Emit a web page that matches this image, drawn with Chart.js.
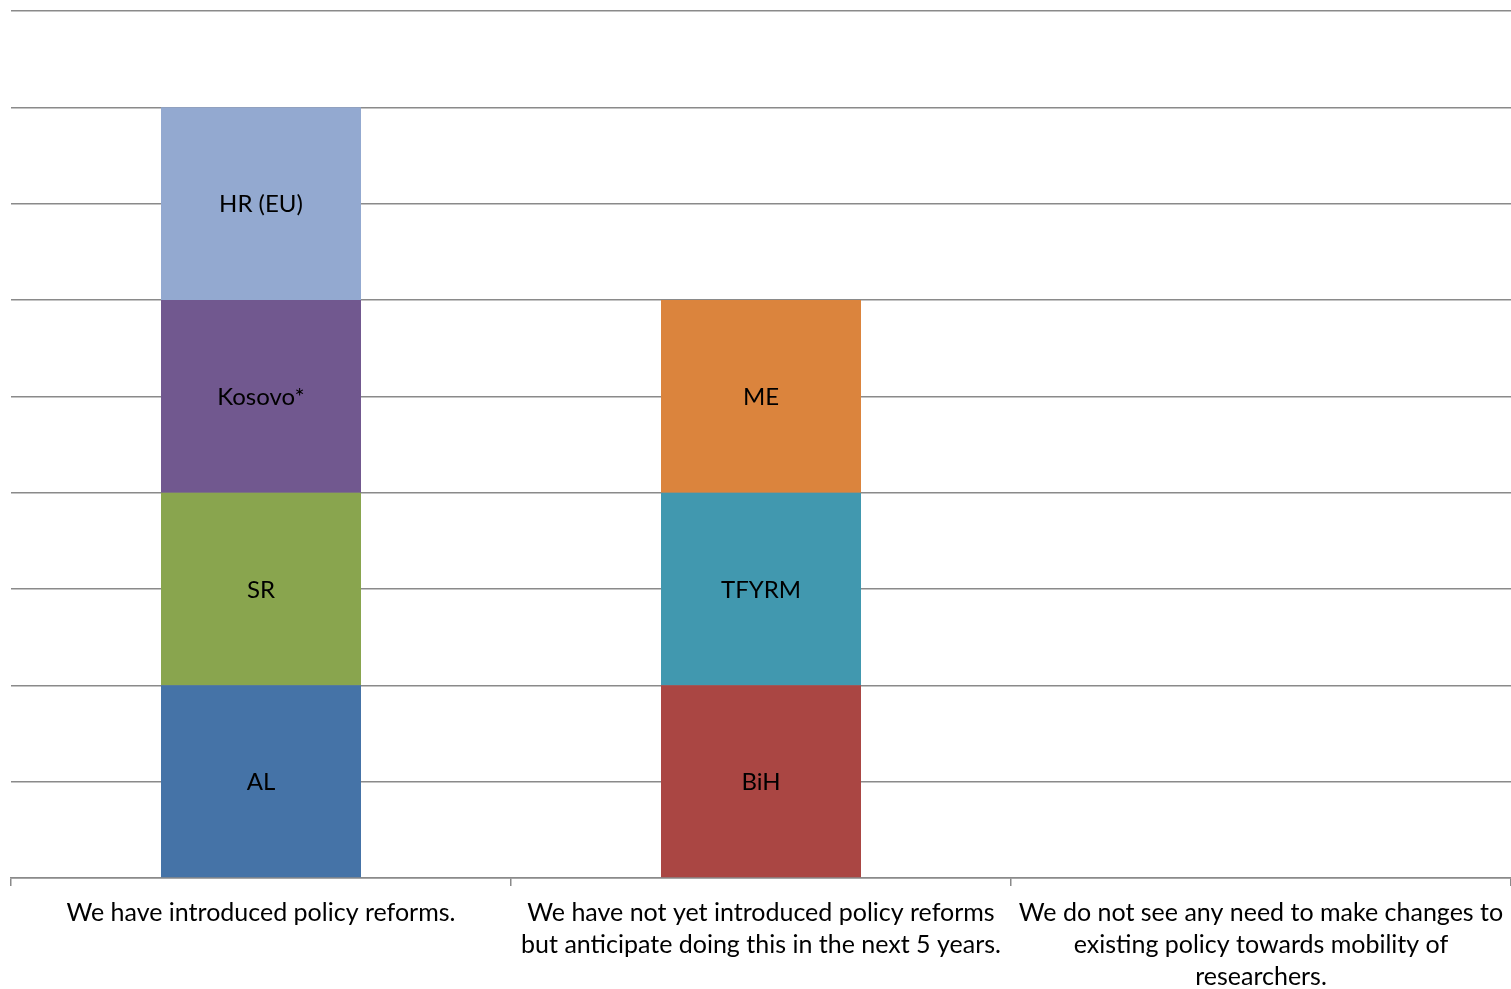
<!DOCTYPE html>
<html>
<head>
<meta charset="utf-8">
<script src="https://cdn.jsdelivr.net/npm/chart.js@4/dist/chart.umd.min.js"></script>
<style>
  html, body { margin: 0; padding: 0; background: #fff; }
  #wrap { width: 1511px; height: 989px; position: relative; }
</style>
</head>
<body>
<div id="wrap"><canvas id="chart"></canvas></div>
<script>
const categories = [
  ['We have introduced policy reforms.'],
  ['We have not yet introduced policy reforms', 'but anticipate doing this in the next 5 years.'],
  ['We do not see any need to make changes to', 'existing policy towards mobility of', 'researchers.']
];

// one array per country, one value per answer
const AL     = [1, null, null];
const SR     = [1, null, null];
const KOSOVO = [1, null, null];
const HR     = [1, null, null];
const BIH    = [null, 1, null];
const TFYRM  = [null, 1, null];
const ME     = [null, 1, null];

const series = [
  { label: 'AL',      data: AL,     color: '#4573A7' },
  { label: 'SR',      data: SR,     color: '#89A54E' },
  { label: 'Kosovo*', data: KOSOVO, color: '#71588F' },
  { label: 'HR (EU)', data: HR,     color: '#93A9D0' },
  { label: 'BiH',     data: BIH,    color: '#AA4643' },
  { label: 'TFYRM',   data: TFYRM,  color: '#4198AF' },
  { label: 'ME',      data: ME,     color: '#DB843D' },
];

const FONT = 'Lato';
const GRID = '#8a8a8a';

// country name in the middle of each segment
const segmentLabels = {
  id: 'segmentLabels',
  afterDatasetsDraw(chart) {
    const ctx = chart.ctx;
    ctx.save();
    ctx.font = '24px ' + FONT;
    ctx.fillStyle = '#000';
    ctx.textAlign = 'center';
    ctx.textBaseline = 'middle';
    chart.data.datasets.forEach((ds, i) => {
      const meta = chart.getDatasetMeta(i);
      meta.data.forEach((bar, j) => {
        if (ds.data[j] == null) return;
        ctx.fillText(ds.label, bar.x, (bar.y + bar.base) / 2 + 1);
      });
    });
    ctx.restore();
  }
};

new Chart(document.getElementById('chart'), {
  type: 'bar',
  data: {
    labels: categories,
    datasets: series.map(s => ({
      label: s.label,
      data: s.data,
      backgroundColor: s.color,
      borderWidth: 0,
      barPercentage: 0.4,
      categoryPercentage: 1.0,
    })),
  },
  options: {
    responsive: true,
    maintainAspectRatio: false,
    animation: false,
    layout: { padding: { top: 11, right: 0, left: 0, bottom: 0 } },
    plugins: { legend: { display: false }, tooltip: { enabled: false } },
    scales: {
      x: {
        stacked: true,
        grid: { offset: true, drawOnChartArea: false, color: GRID, lineWidth: 1.5, tickLength: 8 },
        border: { color: GRID, width: 1.5 },
        ticks: {
          color: '#000', font: { family: FONT, size: 25, lineHeight: '32px' }, padding: 11,
          maxRotation: 0, autoSkip: false,
        },
        afterFit: s => { s.height = 111; s.paddingLeft = 0; s.paddingRight = 0; },
      },
      y: {
        stacked: true,
        min: 0, max: 4.5,
        grid: { color: GRID, lineWidth: 1.5, drawTicks: false },
        border: { display: false },
        ticks: { display: false, stepSize: 0.5 },
        afterFit: s => { s.width = 11; },
      },
    },
  },
  plugins: [segmentLabels],
});
</script>
</body>
</html>
